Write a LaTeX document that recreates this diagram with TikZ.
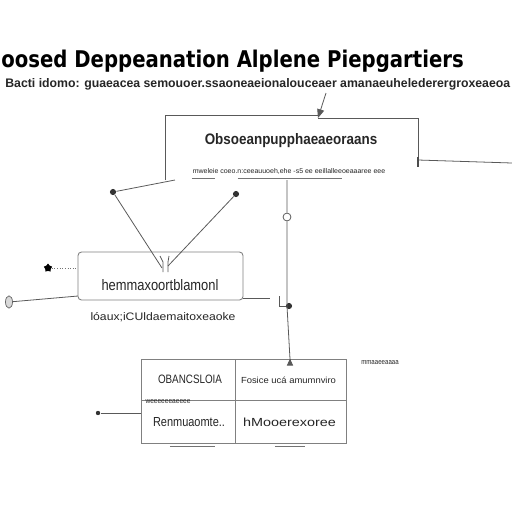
\documentclass[tikz,border=0pt]{standalone}
\usepackage{fontspec}
\usepackage{graphicx}
\setmainfont{Liberation Sans}
\newfontfamily\titlefont{DejaVu Sans}
\usetikzlibrary{arrows.meta,shapes.geometric}
\tikzset{
  ln/.style={draw=black!65, line width=0.45pt},
  cell/.style={draw=black!50, line width=0.5pt, inner sep=0pt, fill=white},
  txt/.style={inner sep=0pt, text=black!85, anchor=base},
  dot/.style={circle, fill=black!80, inner sep=0pt, minimum size=3.5pt},
}
\newcommand{\fitw}[3]{\resizebox{#1}{#2}{#3}}
\begin{document}
\begin{tikzpicture}[x=0.02cm,y=-0.02cm]
\useasboundingbox[fill=white] (0,0) rectangle (512,512);
% title and subtitle
\node[txt, anchor=base west, text=black] (title) at (1,67) {\fitw{9.25cm}{0.35cm}{\titlefont\bfseries oosed Deppeanation Alplene Piepgartiers}};
\node[txt, anchor=base west] (subtitle) at (5,87) {\fitw{10.1cm}{0.18cm}{\bfseries Bacti idomo: guaeacea semouoer.ssaoneaeionalouceaer amanaeuhelederergroxeaeoa}};
% top box (open at bottom)
\node[inner sep=0pt, minimum width=5.06cm, minimum height=1.3cm] (topbox) at (291.5,147.5) {};
\draw[ln] (165,180) -- (165,115) -- (318,115);
\draw[ln] (318,118) -- (418,118) -- (418,160);
\node[txt] (toptitle) at (291,144) {\fitw{3.45cm}{0.22cm}{\bfseries Obsoeanpupphaeaeoraans}};
\node[txt] (topsub) at (289,173) {\fitw{3.85cm}{0.1cm}{mweleie coeo.n:ceeauuoeh,ehe -s5 ee eeillalleeoeaaaree eee}};
\draw[black!55, line width=0.45pt] (192,178) -- (215,178) (238,178) -- (342,178);
\coordinate (arrs) at (326,93);
\coordinate (arrt) at (318,118);
\draw[ln, -{Triangle[length=5pt,width=4pt]}] (arrs) -- (arrt);
\coordinate (rend) at (512,163);
\coordinate (rstart) at (418,160);
\draw[ln] (rstart) -- (rend);
\draw[black!70, line width=0.7pt] (418,157) -- (418,167);
% middle box
\node[cell, rounded corners=2pt, minimum width=3.3cm, minimum height=0.96cm] (midbox) at (160.5,276) {};
\node[txt] (midtext) at (160,290) {\fitw{2.34cm}{0.22cm}{hemmaxoortblamonl}};
\node[txt] (midsub) at (163,320) {\fitw{2.9cm}{0.16cm}{lóaux;iCUldaemaitoxeaoke}};
% V lines into middle box
\coordinate (vstart) at (175,180);
\node[dot] (d1) at (113,192) {};
\node[dot] (d2) at (236,194) {};
\coordinate (v1) at (162,268);
\coordinate (v2) at (168,266);
\draw[ln] (vstart) -- (d1) -- (v1);
\draw[ln] (d2) -- (v2);
\draw[black!65, line width=0.45pt] (160,256) -- (163,262) -- (163,272) (169,256) -- (168,262) -- (168,272);
% left connectors
\node[star, star points=5, fill=black, inner sep=0pt, minimum size=5pt] (st) at (48,268) {};
\draw[black!55, line width=0.5pt, densely dotted] (st) -- (midbox.west |- st);
\node[ellipse, draw=black!60, fill=black!15, inner sep=0pt, minimum width=4pt, minimum height=7pt] (circ) at (9,302) {};
\draw[ln] (circ) -- (78,296);
\coordinate (mr) at (270,298);
\draw[ln] (243,298) -- (mr);
% vertical connector
\coordinate (vtop) at (287,180);
\node[draw=black!70, fill=white, circle, inner sep=0pt, minimum size=4.5pt] (vc) at (287,217) {};
\node[dot] (vd) at (289,306) {};
\coordinate (vb) at (290,359);
\draw[ln] (vtop) -- (vc) -- (287,306) -- (vb);
\draw[ln] (279,296) -- (279,306) -- (vd);
% table
\node[cell, minimum width=1.88cm, minimum height=0.82cm] (c11) at (188,379.5) {};
\node[cell, minimum width=2.22cm, minimum height=0.82cm] (c12) at (290.5,379.5) {};
\node[cell, minimum width=1.88cm, minimum height=0.86cm] (c21) at (188,421.5) {};
\node[cell, minimum width=2.22cm, minimum height=0.86cm] (c22) at (290.5,421.5) {};
\node[txt] (t11) at (190,383) {\fitw{1.28cm}{0.17cm}{OBANCSLOIA}};
\node[txt] (t12) at (288.5,383) {\fitw{1.9cm}{0.13cm}{Fosice ucá amumnviro}};
\node[txt] (t21) at (189,426) {\fitw{1.44cm}{0.18cm}{Renmuaomte..}};
\node[txt] (t22) at (289.5,426) {\fitw{1.86cm}{0.17cm}{hMooerexoree}};
\draw[ln, -{Triangle[length=4pt,width=3.5pt]}] (vb) -- (c12.north -| vb);
\node[txt] (smallr) at (380,364) {\fitw{0.75cm}{0.08cm}{mmaaeeaaaa}};
\node[txt] (smallc) at (168,403) {\fitw{0.9cm}{0.08cm}{weeeeeeaeeee}};
\node[dot, minimum size=2.5pt] (ld) at (98,413) {};
\draw[ln] (ld) -- (c21.west |- ld);
\draw[black!55, line width=0.45pt] (170,446) -- (215,446) (275,446) -- (305,446);
\end{tikzpicture}
\end{document}
